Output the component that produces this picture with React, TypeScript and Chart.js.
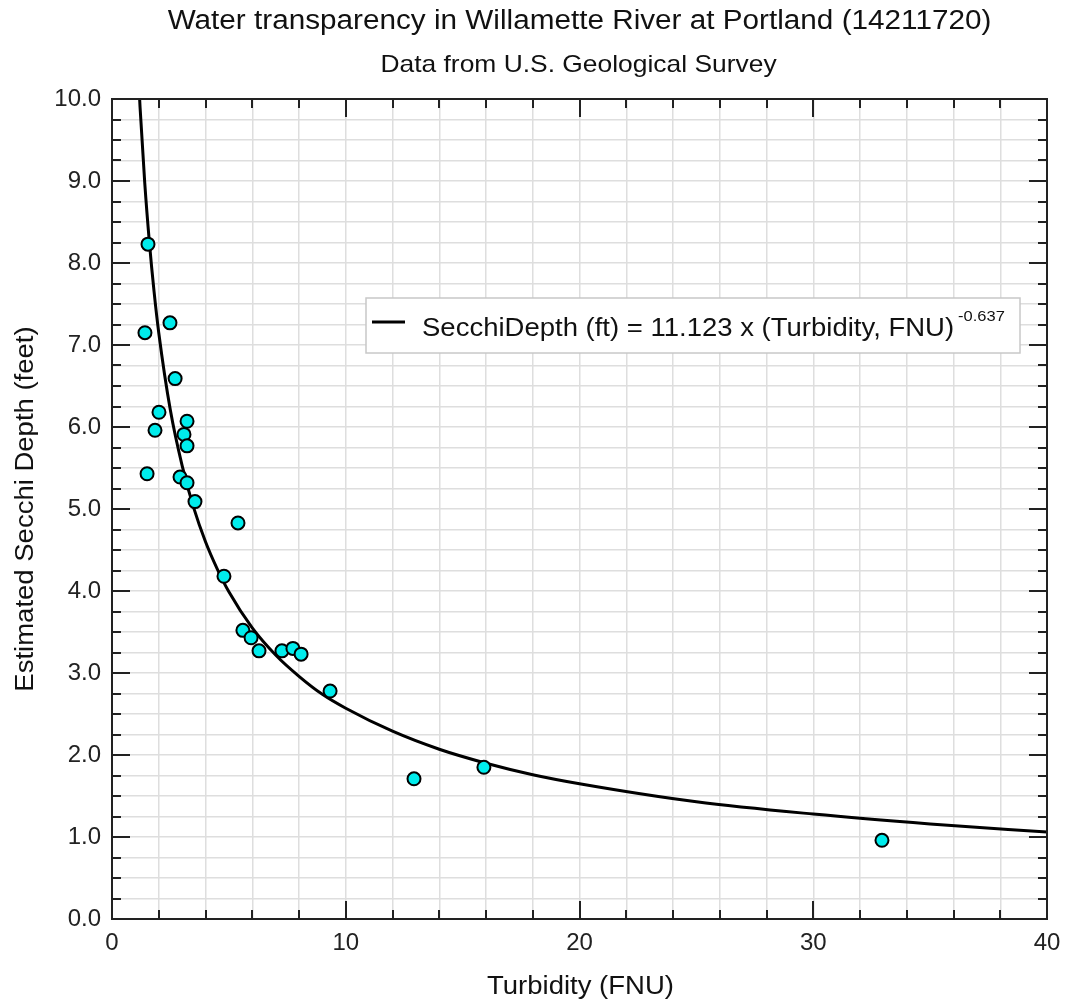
import React, { useEffect, useRef } from 'react';
import { Chart, registerables } from 'chart.js';

Chart.register(...registerables);

const turbidity = [1.54, 1.41, 2.48, 2.70, 2.01, 1.84, 3.21, 3.08, 3.21, 1.50, 2.91, 3.21, 3.55, 5.39, 4.79, 5.60, 5.95, 6.29, 7.27, 7.74, 8.09, 9.33, 12.92, 15.91, 32.94];
const secchiDepth = [8.23, 7.15, 7.27, 6.59, 6.18, 5.96, 6.07, 5.91, 5.77, 5.43, 5.39, 5.32, 5.09, 4.83, 4.18, 3.52, 3.43, 3.27, 3.27, 3.30, 3.23, 2.78, 1.71, 1.85, 0.96];

// Fitted curve
const fitTurbidity = [1.1, 1.2, 1.4, 1.6, 1.8, 2, 2.5, 3, 3.5, 4, 4.5, 5, 6, 7, 8, 9, 10, 12, 14, 16, 18, 20, 25, 30, 35, 40];
const fitDepth = [10.47, 9.90, 8.98, 8.25, 7.65, 7.15, 6.20, 5.53, 5.01, 4.60, 4.27, 3.99, 3.55, 3.22, 2.96, 2.74, 2.57, 2.29, 2.07, 1.90, 1.76, 1.65, 1.43, 1.28, 1.16, 1.06];

const titleText = 'Water transparency in Willamette River at Portland (14211720)';
const subtitleText = 'Data from U.S. Geological Survey';
const xTitle = 'Turbidity (FNU)';
const yTitle = 'Estimated Secchi Depth (feet)';
const legendText = 'SecchiDepth (ft) = 11.123 x (Turbidity, FNU)';
const legendExponent = '-0.637';

const FONT = '"Liberation Sans", Arial, Helvetica, sans-serif';
const SX = 1.1;

function stretchText(ctx: CanvasRenderingContext2D, text: string, x: number, y: number, size: number, align: CanvasTextAlign, rotate = 0) {
  ctx.save();
  ctx.font = `${size}px ${FONT}`;
  ctx.fillStyle = '#111';
  ctx.textAlign = align;
  ctx.textBaseline = 'alphabetic';
  ctx.translate(x, y);
  if (rotate) ctx.rotate(rotate);
  ctx.scale(SX, 1);
  ctx.fillText(text, 0, 0);
  ctx.restore();
}

const decorPlugin = {
  id: 'decor',
  afterDraw(chart: any) {
    const ctx: CanvasRenderingContext2D = chart.ctx;
    const { left, right, top, bottom } = chart.chartArea;
    const xs = chart.scales.x;
    const ys = chart.scales.y;
    const cx = (left + right) / 2;
    const cy = (top + bottom) / 2;

    // titles
    stretchText(ctx, titleText, cx, 29, 27, 'center');
    stretchText(ctx, subtitleText, cx - 1, 72, 24, 'center');
    stretchText(ctx, xTitle, cx + 1, 994, 25, 'center');
    stretchText(ctx, yTitle, 33, cy, 25, 'center', -Math.PI / 2);

    // frame + inward ticks
    ctx.save();
    ctx.strokeStyle = '#222';
    ctx.lineWidth = 2;
    ctx.beginPath();
    xs.ticks.forEach((t: any) => {
      const px = Math.round(xs.getPixelForValue(t.value));
      const L = Math.abs(t.value % 10) < 1e-6 ? 18 : 9;
      ctx.moveTo(px, bottom); ctx.lineTo(px, bottom - L);
      ctx.moveTo(px, top); ctx.lineTo(px, top + L);
    });
    ys.ticks.forEach((t: any) => {
      const py = Math.round(ys.getPixelForValue(t.value));
      const L = Math.abs(t.value - Math.round(t.value)) < 1e-6 ? 18 : 9;
      ctx.moveTo(left, py); ctx.lineTo(left + L, py);
      ctx.moveTo(right, py); ctx.lineTo(right - L, py);
    });
    ctx.stroke();
    ctx.strokeRect(left, top, right - left, bottom - top);
    ctx.restore();

    // legend box
    ctx.save();
    const bx = 366, by = 298, bw = 654, bh = 55;
    ctx.fillStyle = '#fff';
    ctx.fillRect(bx, by, bw, bh);
    ctx.strokeStyle = '#c8c8c8';
    ctx.lineWidth = 1.5;
    ctx.strokeRect(bx, by, bw, bh);
    ctx.strokeStyle = '#000';
    ctx.lineWidth = 3;
    ctx.beginPath();
    ctx.moveTo(372, 322); ctx.lineTo(405, 322);
    ctx.stroke();
    ctx.font = `25px ${FONT}`;
    const w = ctx.measureText(legendText).width * SX;
    ctx.restore();
    stretchText(ctx, legendText, 422, 336, 25, 'left');
    stretchText(ctx, legendExponent, 422 + w + 4, 321, 15, 'left');
  },
};

export default function App() {
  const ref = useRef<HTMLCanvasElement>(null);
  useEffect(() => {
    document.body.style.margin = '0';
    const canvas = ref.current!;
    const chart = new Chart(canvas, {
      type: 'scatter',
      data: {
        datasets: [
          {
            type: 'scatter',
            label: 'Observations',
            data: turbidity.map((x, i) => ({ x, y: secchiDepth[i] })),
            backgroundColor: '#00ecec',
            borderColor: '#000',
            borderWidth: 2,
            pointRadius: 6.5,
            order: 0,
          },
          {
            type: 'line',
            label: 'Fit',
            data: fitTurbidity.map((x, i) => ({ x, y: fitDepth[i] })),
            borderColor: '#000',
            borderWidth: 3,
            pointRadius: 0,
            fill: false,
            cubicInterpolationMode: 'monotone',
            order: 1,
          } as any,
        ],
      },
      options: {
        responsive: false,
        animation: false,
        devicePixelRatio: 1,
        layout: { padding: { top: 99, right: 32, bottom: 0, left: 0 } },
        plugins: { legend: { display: false }, tooltip: { enabled: false }, title: { display: false } },
        scales: {
          x: {
            type: 'linear',
            min: 0,
            max: 40,
            afterFit: (s: any) => { s.height = 89; },
            border: { display: false },
            grid: { color: '#dedede', lineWidth: 1.5, drawTicks: false },
            ticks: {
              stepSize: 2,
              autoSkip: false,
              maxRotation: 0,
              padding: 10,
              color: '#222',
              font: { family: FONT, size: 24 },
              callback: (v: any) => (Math.abs(v % 10) < 1e-6 ? String(v) : ''),
            },
          },
          y: {
            type: 'linear',
            min: 0,
            max: 10,
            afterFit: (s: any) => { s.width = 112; },
            border: { display: false },
            grid: { color: '#dedede', lineWidth: 1.5, drawTicks: false },
            ticks: {
              stepSize: 0.25,
              autoSkip: false,
              padding: 11,
              color: '#222',
              font: { family: FONT, size: 24 },
              callback: (v: any) => (Math.abs(v - Math.round(v)) < 1e-6 ? Number(v).toFixed(1) : ''),
            },
          },
        },
      },
      plugins: [decorPlugin],
    } as any);
    return () => chart.destroy();
  }, []);
  return (
    <div style={{ width: 1079, height: 1008, background: '#fff' }}>
      <canvas ref={ref} width={1079} height={1008} style={{ display: 'block' }} />
    </div>
  );
}
